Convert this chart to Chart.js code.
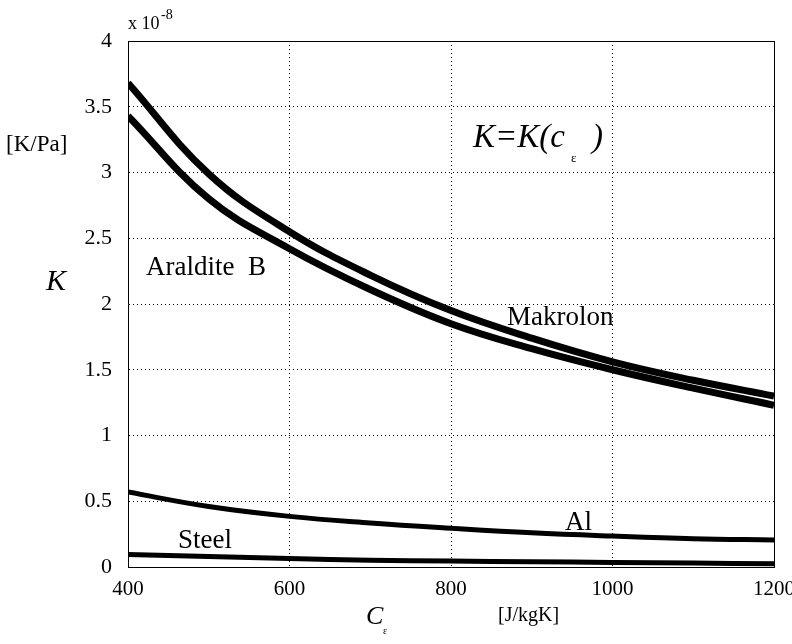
<!DOCTYPE html>
<html>
<head>
<meta charset="utf-8">
<script src="https://cdn.jsdelivr.net/npm/chart.js@4"></script>
<style>
  html, body { margin: 0; padding: 0; background: #fff; }
  #wrap { width: 792px; height: 644px; }
</style>
</head>
<body>
<div id="wrap"><canvas id="myChart" width="792" height="644"></canvas></div>
<script>
// c_eps [J/kgK]
const cEps = [400, 500, 600, 700, 800, 900, 1000, 1100, 1200];
// K values, units of 1e-8 K/Pa
const makrolon = [3.68, 2.99, 2.55, 2.22, 1.95, 1.74, 1.56, 1.42, 1.30];
const araldite = [3.43, 2.80, 2.42, 2.11, 1.85, 1.66, 1.50, 1.36, 1.23];
const aluminium = [0.57, 0.46, 0.385, 0.335, 0.295, 0.26, 0.235, 0.215, 0.205];
const steel = [0.095, 0.08, 0.065, 0.052, 0.045, 0.04, 0.035, 0.03, 0.025];
const xTicks = [400, 600, 800, 1000, 1200];
const yTicks = [0, 0.5, 1, 1.5, 2, 2.5, 3, 3.5, 4];

const serif = '"Liberation Serif", "DejaVu Serif", serif';

function toPoints(ys) {
  return cEps.map((x, i) => ({x: x, y: ys[i]}));
}

function series(label, ys, w) {
  return {
    label: label,
    data: toPoints(ys),
    borderColor: '#000',
    backgroundColor: '#000',
    borderWidth: w,
    pointRadius: 0,
    fill: false,
    tension: 0.4
  };
}

// text drawn onto the chart (labels, axis names)
const textPlugin = {
  id: 'texts',
  afterDraw(chart) {
    const ctx = chart.ctx;
    ctx.save();
    ctx.fillStyle = '#000';
    ctx.textBaseline = 'alphabetic';
    ctx.textAlign = 'left';

    // exponent
    ctx.font = '18px ' + serif;
    ctx.fillText('x 10', 128, 29);
    ctx.font = '14px ' + serif;
    ctx.fillText('-8', 161, 19);

    // y label
    ctx.font = '23px ' + serif;
    ctx.fillText('[K/Pa]', 6, 151);
    ctx.font = 'italic 30px ' + serif;
    ctx.fillText('K', 46, 290);

    // x label
    ctx.font = 'italic 26px ' + serif;
    ctx.fillText('C', 366, 624);
    ctx.font = '10px ' + serif;
    ctx.fillText('\u03b5', 383, 634);
    ctx.font = '20px ' + serif;
    ctx.fillText('[J/kgK]', 498, 621);

    // formula
    ctx.font = 'italic 33px ' + serif;
    ctx.fillText('K=K(c', 473, 147);
    ctx.font = '13px ' + serif;
    ctx.fillText('\u03b5', 571, 162);
    ctx.font = 'italic 33px ' + serif;
    ctx.fillText(')', 592, 147);

    // curve names
    ctx.font = '27px ' + serif;
    ctx.fillText('Araldite  B', 146, 275);
    ctx.fillText('Makrolon', 507, 325);
    ctx.fillText('Al', 565, 530);
    ctx.fillText('Steel', 178, 548);
    ctx.restore();
  }
};

const gridStyle = {
  color: '#000',
  lineWidth: 1,
  drawTicks: false
};

new Chart(document.getElementById('myChart').getContext('2d'), {
  type: 'line',
  data: {
    datasets: [
      series('Makrolon', makrolon, 7),
      series('Araldite B', araldite, 7),
      series('Al', aluminium, 5),
      series('Steel', steel, 5)
    ]
  },
  options: {
    responsive: false,
    animation: false,
    layout: { padding: { left: 0, top: 41, right: 18, bottom: 0 } },
    plugins: { legend: { display: false }, tooltip: { enabled: false } },
    scales: {
      x: {
        type: 'linear',
        min: 400,
        max: 1200,
        afterBuildTicks: s => { s.ticks = xTicks.map(v => ({value: v})); },
        afterFit: s => { s.height = 77; s.paddingLeft = 0; s.paddingRight = 0; },
        grid: gridStyle,
        border: { display: true, color: '#000', width: 1, dash: [1, 3] },
        ticks: { color: '#000', padding: 10, maxRotation: 0, font: { family: serif, size: 21 }, callback: v => String(v) }
      },
      y: {
        type: 'linear',
        min: 0,
        max: 4,
        afterBuildTicks: s => { s.ticks = yTicks.map(v => ({value: v})); },
        afterFit: s => { s.width = 128; s.paddingTop = 0; s.paddingBottom = 0; },
        grid: gridStyle,
        border: { display: true, color: '#000', width: 1, dash: [1, 3] },
        ticks: { color: '#000', padding: 16, font: { family: serif, size: 22 }, callback: v => String(v) }
      },
      x2: {
        type: 'linear', position: 'top', min: 400, max: 1200,
        afterFit: s => { s.height = 0; },
        grid: { display: false, drawTicks: false }, ticks: { display: false },
        border: { display: true, color: '#000', width: 1 }
      },
      y2: {
        type: 'linear', position: 'right', min: 0, max: 4,
        afterFit: s => { s.width = 0; },
        grid: { display: false, drawTicks: false }, ticks: { display: false },
        border: { display: true, color: '#000', width: 1 }
      }
    }
  },
  plugins: [textPlugin]
});
</script>
</body>
</html>
